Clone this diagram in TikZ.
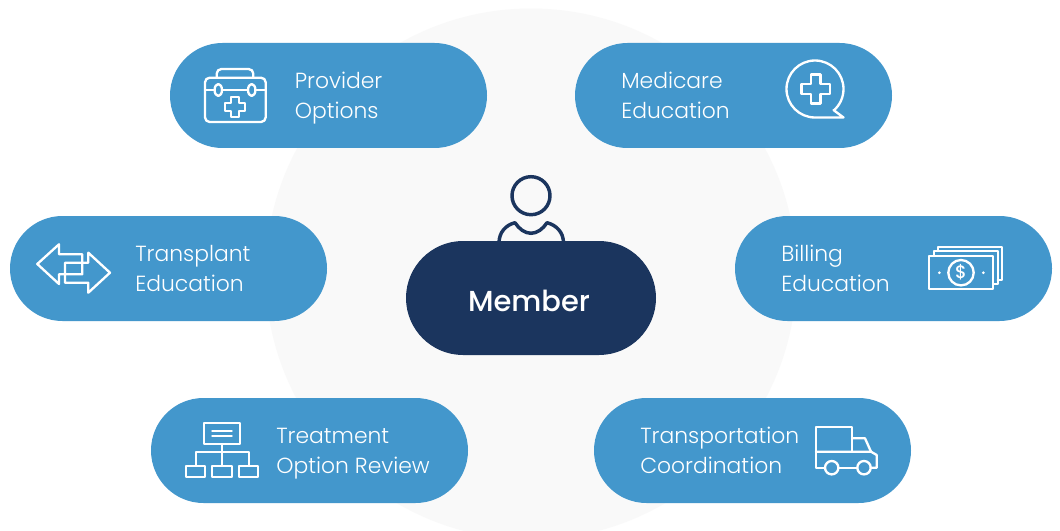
\documentclass[tikz,border=0pt]{standalone}
\usepackage{fontspec}
\setmainfont{Poppins}
\newfontfamily\lightfont{Poppins Light}
\newfontfamily\medfont{Poppins Medium}
\definecolor{pillblue}{HTML}{4397CC}
\definecolor{navy}{HTML}{1B355E}
\definecolor{bgcircle}{HTML}{F9F9F9}
\tikzset{
 pill/.style={fill=pillblue,draw=none,rounded corners=52.5*0.75pt},
 lbl/.style={text=white,font=\lightfont\fontsize{16.4pt}{22.4pt}\selectfont,align=left,anchor=north west,inner sep=0pt,text height=14pt},
 icon/.style={draw=white,line width=1.75pt,line join=round,line cap=round},
}
\begin{document}
\begin{tikzpicture}[x=0.75pt,y=-0.75pt]
\useasboundingbox (0,0) rectangle (1060,531);
\fill[white] (0,0) rectangle (1060,531);
\begin{scope}
\clip (0,0) rectangle (1060,531);
\node[circle,fill=bgcircle,minimum size=531*0.75pt,inner sep=0pt] (bg) at (531,274) {};
\end{scope}
% pills
\fill[pill] (170,43) rectangle (487,148);
\fill[pill] (575,43) rectangle (892,148);
\fill[pill] (10,216) rectangle (327,321);
\fill[pill] (735,216) rectangle (1052,321);
\fill[pill] (151,398) rectangle (468,503);
\fill[pill] (594,398) rectangle (911,503);
% labels
\node[lbl] (provider) at (294.5,99.3) {Provider\\Options};
\node[lbl] (medicare) at (621,99.3) {Medicare\\Education};
\node[lbl] (transplant) at (135,272.3) {Transplant\\Education};
\node[lbl] (billing) at (781,272.3) {Billing\\Education};
\node[lbl] (treatment) at (276,454.3) {Treatment\\Option Review};
\node[lbl] (transport) at (640,454.3) {Transportation\\Coordination};
% person
\draw[navy,line width=2.6pt] (531,195.7) circle (19);
\draw[navy,line width=2.6pt,line join=round] (499,243) .. controls (499,232) and (506,225) .. (515,222.7) .. controls (519,229) and (525,233.3) .. (531,233.3) .. controls (537,233.3) and (543,229) .. (547,222.7) .. controls (556,225) and (563.5,232) .. (563.5,243);
% member
\fill[navy,rounded corners=57*0.75pt] (406,241) rectangle (656,355);
\node[text=white,font=\medfont\fontsize{21.7pt}{24pt}\selectfont,inner sep=0pt] (member) at (529,301) {Member};
% toolbox
\draw[icon,rounded corners=3.5pt] (205,77.7) rectangle (265.7,122);
\draw[icon,rounded corners=3.5pt] (216.7,77.7) -- (216.7,69) -- (253.3,69) -- (253.3,77.7);
\draw[icon] (218.3,90) ellipse (3.7 and 6);
\draw[icon] (251.7,90) ellipse (3.7 and 6);
\draw[icon] (205,90) -- (214.6,90) (222,90) -- (248,90) (255.4,90) -- (265.7,90);
\draw[icon] (231.3,96.7) -- (239.3,96.7) -- (239.3,102.7) -- (245.3,102.7) -- (245.3,110.7) -- (239.3,110.7) -- (239.3,116.7) -- (231.3,116.7) -- (231.3,110.7) -- (225.3,110.7) -- (225.3,102.7) -- (231.3,102.7) -- cycle;
% speech bubble
\draw[icon] (833.5,110) -- (843.5,117.5) -- (815,117.5) arc[start angle=90,end angle=408.6,radius=28.5];
\draw[icon] (811,74.5) -- (820.5,74.5) -- (820.5,84) -- (830,84) -- (830,94) -- (820.5,94) -- (820.5,103.5) -- (811,103.5) -- (811,94) -- (801.5,94) -- (801.5,84) -- (811,84) -- cycle;
% arrows
\draw[icon] (37.3,264) -- (59,244.3) -- (59,254.3) -- (82.3,254.3) -- (82.3,274.3) -- (59,274.3) -- (59,284) -- cycle;
\draw[icon] (110,272.7) -- (88.3,252.7) -- (88.3,262.7) -- (65,262.7) -- (65,282.7) -- (88.3,282.7) -- (88.3,292.7) -- cycle;
% money
\draw[icon] (929,256) rectangle (993.3,289.3);
\draw[icon] (934,256) -- (934,251) -- (997.7,251) -- (997.7,284) -- (993.3,284);
\draw[icon] (938.3,251) -- (938.3,246.7) -- (1002.3,246.7) -- (1002.3,280) -- (997.7,280);
\draw[icon] (961,272.7) circle (12.7);
\fill[white] (939.3,272.7) circle (1.5) (983.3,272.7) circle (1.5);
\node[text=white,font=\medfont\fontsize{13.5pt}{14pt}\selectfont,inner sep=0pt] (dollar) at (961,272.7) {\$};
% org chart
\draw[icon] (204.3,423.3) rectangle (240,444.3);
\draw[icon] (212.3,430.7) -- (231.7,430.7) (212.3,436) -- (231.7,436);
\draw[icon] (222.3,444.3) -- (222.3,465.7) (195.7,465.7) -- (195.7,452.3) -- (249,452.3) -- (249,465.7);
\draw[icon] (186,465.7) rectangle (205,477);
\draw[icon] (212.3,465.7) rectangle (231.7,477);
\draw[icon] (239,465.7) rectangle (258.3,477);
% truck
\draw[icon] (825,467.7) -- (816,467.7) -- (816,426.7) -- (852.3,426.7) -- (852.3,451.7);
\draw[icon] (816,451.7) -- (871,451.7) -- (876.7,455) -- (876.7,467.7) -- (870.7,467.7);
\draw[icon] (852.3,438.3) -- (865,438.3) -- (871,451.7);
\draw[icon] (838.4,467.7) -- (857.3,467.7);
\draw[icon] (831.7,467.7) circle (6.7);
\draw[icon] (864,467.7) circle (6.7);
\end{tikzpicture}
\end{document}
